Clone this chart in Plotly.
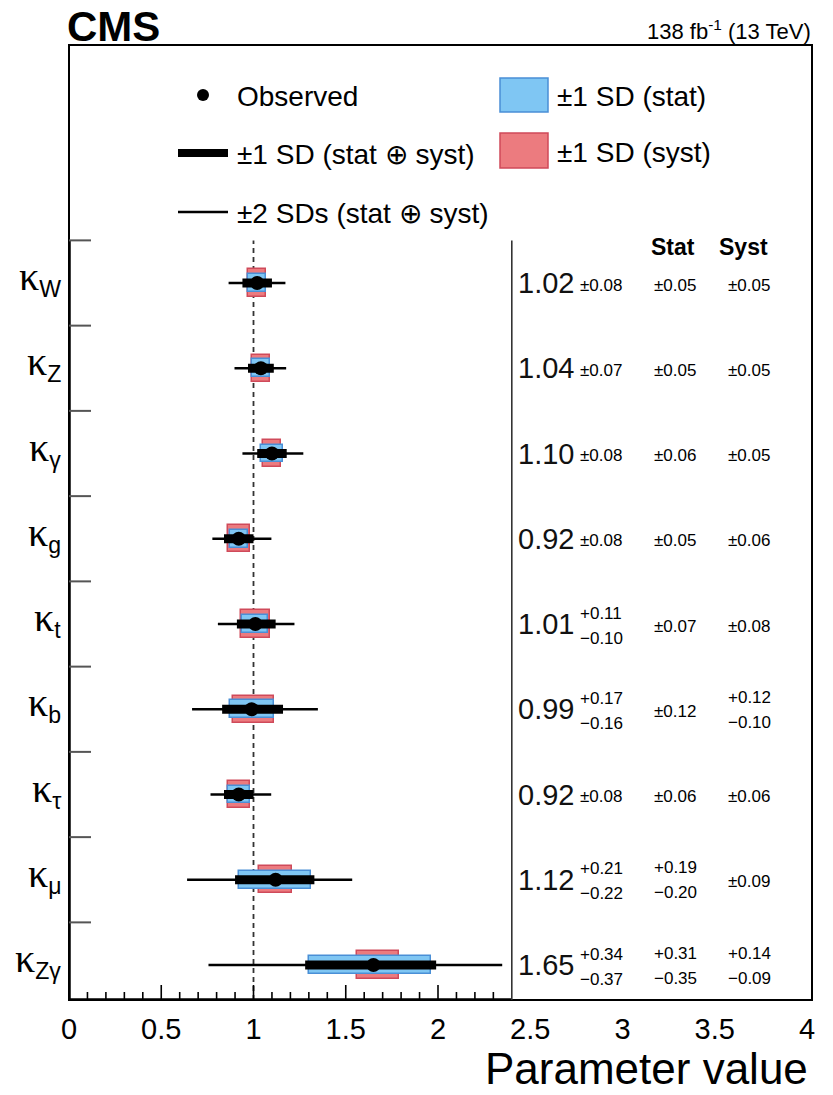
import plotly.graph_objects as go

# ---------------- data ----------------
label_subs = ["W", "Z", "γ", "g", "t", "b", "τ", "μ", "Zγ"]
values = [1.02, 1.04, 1.10, 0.92, 1.01, 0.99, 0.92, 1.12, 1.65]
tot_hi = [0.08, 0.07, 0.08, 0.08, 0.11, 0.17, 0.08, 0.21, 0.34]
tot_lo = [0.08, 0.07, 0.08, 0.08, 0.10, 0.16, 0.08, 0.22, 0.37]
stat_hi = [0.05, 0.05, 0.06, 0.05, 0.07, 0.12, 0.06, 0.19, 0.31]
stat_lo = [0.05, 0.05, 0.06, 0.05, 0.07, 0.12, 0.06, 0.20, 0.35]
syst_hi = [0.05, 0.05, 0.05, 0.06, 0.08, 0.12, 0.06, 0.09, 0.14]
syst_lo = [0.05, 0.05, 0.05, 0.06, 0.08, 0.10, 0.06, 0.09, 0.09]
# +-2 SD interval bounds
two_sd_low = [0.865, 0.897, 0.940, 0.777, 0.807, 0.667, 0.767, 0.640, 0.756]
two_sd_high = [1.173, 1.177, 1.270, 1.097, 1.222, 1.349, 1.096, 1.535, 2.348]

xtick_vals = [0, 0.5, 1, 1.5, 2, 2.5, 3, 3.5, 4]
xtick_text = ["0", "0.5", "1", "1.5", "2", "2.5", "3", "3.5", "4"]

# ---------------- geometry helpers ----------------
W, H = 833, 1095
ML, MR, MT, MB = 69, 21, 45, 95
PPU_X = 184.5
X_MAX = (W - ML - MR) / PPU_X
PPU_Y = 85.25
Y0_PX = 965  # pixel of y=0 (bottom row)
Y_MIN = -(H - MB - Y0_PX) / PPU_Y
Y_MAX = (Y0_PX - MT) / PPU_Y


def dx(px):
    return (px - ML) / PPU_X


def dy(py):
    return (Y0_PX - py) / PPU_Y


def px_paper(px):
    return (px - ML) / (W - ML - MR)


def py_paper(py):
    return (H - MB - py) / (H - MT - MB)


n = len(values)
pos = [n - 1 - i for i in range(n)]
FONT = "Liberation Sans, Arial, Helvetica, sans-serif"
X_SPLIT = 2.4

BLUE_FILL, BLUE_LINE = "#7fc6f3", "#4a8fd6"
RED_FILL, RED_LINE = "#ec7b7f", "#cf4a5a"

fig = go.Figure()

# syst boxes (red)
fig.add_trace(go.Bar(
    orientation="h", y=pos,
    x=[h + l for h, l in zip(syst_hi, syst_lo)],
    base=[v - l for v, l in zip(values, syst_lo)],
    width=0.32, marker=dict(color=RED_FILL, line=dict(color=RED_LINE, width=1.5)),
    showlegend=False, hoverinfo="skip"))
# stat boxes (blue)
fig.add_trace(go.Bar(
    orientation="h", y=pos,
    x=[h + l for h, l in zip(stat_hi, stat_lo)],
    base=[v - l for v, l in zip(values, stat_lo)],
    width=0.21, marker=dict(color=BLUE_FILL, line=dict(color=BLUE_LINE, width=1.5)),
    showlegend=False, hoverinfo="skip"))
# 2 SD thin line
fig.add_trace(go.Scatter(
    x=values, y=pos, mode="markers", marker=dict(size=1, color="rgba(0,0,0,0)"),
    error_x=dict(type="data", symmetric=False,
                 array=[h - v for h, v in zip(two_sd_high, values)],
                 arrayminus=[v - l for v, l in zip(values, two_sd_low)],
                 thickness=2.5, width=0, color="black"),
    showlegend=False, hoverinfo="skip"))
# 1 SD thick line + observed
fig.add_trace(go.Scatter(
    x=values, y=pos, mode="markers", marker=dict(size=14, color="black"),
    error_x=dict(type="data", symmetric=False, array=tot_hi, arrayminus=tot_lo,
                 thickness=9, width=0, color="black"),
    showlegend=False, hoverinfo="skip"))

shapes = []
# frame
shapes.append(dict(type="rect", xref="paper", yref="paper", x0=0, x1=1, y0=0, y1=1,
                   line=dict(color="black", width=2), layer="above"))
# thick left axis and bottom axis
shapes.append(dict(type="line", xref="x", yref="y", x0=0, x1=0, y0=Y_MIN, y1=8.5,
                   line=dict(color="black", width=3.5), layer="above"))
shapes.append(dict(type="line", xref="x", yref="y", x0=0, x1=X_SPLIT, y0=Y_MIN, y1=Y_MIN,
                   line=dict(color="black", width=3.5), layer="above"))
# separator
shapes.append(dict(type="line", xref="x", yref="y", x0=X_SPLIT, x1=X_SPLIT, y0=Y_MIN, y1=8.5,
                   line=dict(color="#333333", width=1.6), layer="above"))
# dashed line at 1
shapes.append(dict(type="line", xref="x", yref="y", x0=1, x1=1, y0=Y_MIN, y1=8.5,
                   line=dict(color="#333333", width=1.8, dash="5px,4px"), layer="below"))
# y tick marks
for k in range(n):
    yb = k + 0.5
    shapes.append(dict(type="line", xref="x", yref="y", x0=0, x1=22 / PPU_X, y0=yb, y1=yb,
                       line=dict(color="#555555", width=2), layer="above"))
# x ticks
for t in range(1, 24):
    xv = t / 10
    major = (t % 5 == 0)
    hpx = 15 if major else 8
    shapes.append(dict(type="line", xref="x", yref="y", x0=xv, x1=xv, y0=Y_MIN,
                       y1=Y_MIN + hpx / PPU_Y,
                       line=dict(color="black", width=1.6), layer="above"))

# legend glyphs
shapes.append(dict(type="circle", xref="x", yref="y",
                   x0=dx(197), x1=dx(209), y0=dy(101), y1=dy(89),
                   fillcolor="black", line=dict(color="black", width=0)))
shapes.append(dict(type="line", xref="x", yref="y", x0=dx(178), x1=dx(228), y0=dy(153), y1=dy(153),
                   line=dict(color="black", width=8)))
shapes.append(dict(type="line", xref="x", yref="y", x0=dx(178), x1=dx(228), y0=dy(212), y1=dy(212),
                   line=dict(color="black", width=2.5)))
shapes.append(dict(type="rect", xref="x", yref="y", x0=dx(500), x1=dx(548), y0=dy(112), y1=dy(78),
                   fillcolor=BLUE_FILL, line=dict(color=BLUE_LINE, width=1.5)))
shapes.append(dict(type="rect", xref="x", yref="y", x0=dx(500), x1=dx(548), y0=dy(168), y1=dy(133),
                   fillcolor=RED_FILL, line=dict(color=RED_LINE, width=1.5)))

ann = []


def add_text(text, x, y, size, xanchor="left", yanchor="middle", bold=False, yshift=0,
             color="black"):
    if bold:
        text = "<b>" + text + "</b>"
    ann.append(dict(text=text, x=x, y=y, xref="x", yref="y", showarrow=False,
                    xanchor=xanchor, yanchor=yanchor, yshift=yshift,
                    font=dict(family=FONT, size=size, color=color)))


def add_paper_text(text, px, py, size, xanchor="left", bold=False):
    if bold:
        text = "<b>" + text + "</b>"
    ann.append(dict(text=text, x=px_paper(px), y=py_paper(py), xref="paper", yref="paper",
                    showarrow=False, xanchor=xanchor, yanchor="middle",
                    font=dict(family=FONT, size=size, color="black")))


# legend texts
add_text("Observed", dx(235), dy(96), 28)
add_text("±1 SD (stat ⊕ syst)", dx(235), dy(154), 28)
add_text("±2 SDs (stat ⊕ syst)", dx(235), dy(213), 28)
add_text("±1 SD (stat)", dx(555), dy(96), 28)
add_text("±1 SD (syst)", dx(555), dy(152), 28)

# header texts (outside the plot area)
add_paper_text("CMS", 65, 26, 42, bold=True)
add_paper_text("138 fb<sup>-1</sup> (13 TeV)", 813, 30, 22, xanchor="right")
add_paper_text("Parameter value", 810, 1068, 44, xanchor="right")

# row labels
for p, sub in zip(pos, label_subs):
    lab = ('<span style="font-family:Liberation Serif, DejaVu Serif, serif;font-size:40px">κ</span>'
           '<sub>' + sub + '</sub>')
    ann.append(dict(text=lab, x=0, y=p, xref="paper", yref="y", showarrow=False,
                    xanchor="right", yanchor="middle", xshift=-6, yshift=5,
                    font=dict(family=FONT, size=33, color="black")))

# table
add_text("Stat", dx(673), dy(247), 23, xanchor="center", bold=True)
add_text("Syst", dx(743), dy(247), 23, xanchor="center", bold=True)


def fmt(v):
    return f"{v:.2f}"


for i, p in enumerate(pos):
    add_text(fmt(values[i]), dx(576), p, 29, xanchor="right", color="#111111")
    if tot_hi[i] == tot_lo[i]:
        add_text("±" + fmt(tot_hi[i]), dx(578), p, 17, yshift=-2)
    else:
        add_text("+" + fmt(tot_hi[i]), dx(578), p, 17, yshift=11)
        add_text("−" + fmt(tot_lo[i]), dx(578), p, 17, yshift=-14)
    for cx, hi, lo in ((dx(675), stat_hi[i], stat_lo[i]), (dx(749), syst_hi[i], syst_lo[i])):
        if hi == lo:
            add_text("±" + fmt(hi), cx, p, 17, xanchor="center", yshift=-2)
        else:
            add_text("+" + fmt(hi), cx, p, 17, xanchor="center", yshift=12)
            add_text("−" + fmt(lo), cx, p, 17, xanchor="center", yshift=-13)

fig.update_layout(
    width=W, height=H,
    margin=dict(l=ML, r=MR, t=MT, b=MB, pad=0),
    paper_bgcolor="white", plot_bgcolor="white",
    barmode="overlay", bargap=0,
    showlegend=False,
    shapes=shapes, annotations=ann,
    font=dict(family=FONT, color="black"),
)
fig.update_xaxes(range=[0, X_MAX], showgrid=False, zeroline=False, showline=False,
                 tickmode="array", tickvals=xtick_vals, ticktext=xtick_text, ticks="",
                 tickfont=dict(family=FONT, size=29, color="black"), ticklabelstandoff=9)
fig.update_yaxes(range=[Y_MIN, Y_MAX], showgrid=False, zeroline=False, showline=False,
                 showticklabels=False, ticks="")

fig.write_html("out.html")
